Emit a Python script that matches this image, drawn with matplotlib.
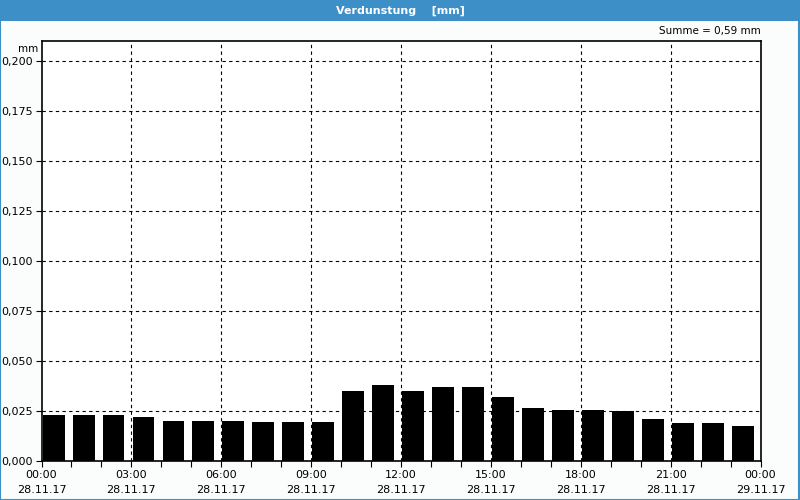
import matplotlib
matplotlib.use("Agg")
import matplotlib.pyplot as plt
from matplotlib.patches import Rectangle
from matplotlib.ticker import FixedLocator, MultipleLocator


OUTPUT_FILE = "out.png"

TITLE = "Verdunstung    [mm]"
SUM_TEXT = "Summe = 0,59 mm"
BLUE = "#3d8fc7"

# hourly evaporation values in mm (one bar per hour, 00:00 .. 23:00)
hours = list(range(24))
values = [0.023, 0.023, 0.023, 0.022, 0.020, 0.020, 0.020, 0.0195,
          0.0195, 0.0195, 0.035, 0.038, 0.035, 0.037, 0.037, 0.032,
          0.0265, 0.0255, 0.0255, 0.025, 0.0206, 0.0186, 0.0186, 0.0171]

x_tick_hours = [0, 3, 6, 9, 12, 15, 18, 21, 24]
x_tick_labels = ["00:00\n28.11.17", "03:00\n28.11.17", "06:00\n28.11.17",
                 "09:00\n28.11.17", "12:00\n28.11.17", "15:00\n28.11.17",
                 "18:00\n28.11.17", "21:00\n28.11.17", "00:00\n29.11.17"]

y_ticks = [0.0, 0.025, 0.05, 0.075, 0.1, 0.125, 0.15, 0.175, 0.2]
y_tick_labels = ["0,000", "0,025", "0,050", "0,075", "0,100",
                 "0,125", "0,150", "0,175", "0,200"]


def make_frame(fig):
    # blue title bar and thin blue border round the picture
    fig.patches.append(Rectangle((0, 0.958), 1, 0.042, transform=fig.transFigure,
                                 facecolor=BLUE, edgecolor="none", zorder=0))
    fig.patches.append(Rectangle((0.0006, 0.001), 0.9982, 0.998, transform=fig.transFigure,
                                 facecolor="none", edgecolor=BLUE, linewidth=1.5, zorder=0))
    fig.text(0.5, 0.979, TITLE, color="white", fontsize=8, fontweight="bold",
             ha="center", va="center")


def draw_bars(ax):
    ax.bar([h + 0.04 for h in hours], values, width=0.73, align="edge",
           color="black", zorder=3)


def style_axes(ax):
    ax.set_xlim(0, 24)
    ax.set_ylim(0, 0.2105)
    ax.set_axisbelow(True)

    ax.xaxis.set_major_locator(FixedLocator(x_tick_hours))
    ax.set_xticklabels(x_tick_labels)
    ax.xaxis.set_minor_locator(MultipleLocator(1))
    ax.set_yticks(y_ticks)
    ax.set_yticklabels(y_tick_labels)

    ax.tick_params(axis="both", which="major", labelsize=8, length=4, width=0.8,
                   direction="out", color="black")
    ax.tick_params(axis="x", which="minor", length=4, width=0.8, direction="out")
    ax.tick_params(axis="y", pad=2)
    ax.tick_params(axis="x", pad=3)
    for label in ax.get_xticklabels():
        label.set_linespacing(1.6)

    ax.grid(True, which="major", color="black", linestyle=(0, (3, 3)),
            linewidth=0.8)
    # the outer vertical grid lines sit on the frame, hide them
    gridlines = ax.xaxis.get_gridlines()
    gridlines[0].set_visible(False)
    gridlines[-1].set_visible(False)

    for spine in ax.spines.values():
        spine.set_linewidth(1.2)
        spine.set_zorder(5)

    ax.text(-0.004, 0.2085, "mm", transform=ax.get_yaxis_transform(),
            ha="right", va="top", fontsize=7.5)
    ax.text(1.0, 1.01, SUM_TEXT, transform=ax.transAxes,
            ha="right", va="bottom", fontsize=7.5)


def main():
    fig = plt.figure(figsize=(8, 5), dpi=100, facecolor="#fbfdfd")
    ax = fig.add_axes([41.5 / 800, 39.5 / 500, 719 / 800, 420 / 500])
    ax.set_facecolor("white")

    make_frame(fig)
    draw_bars(ax)
    style_axes(ax)

    fig.savefig(OUTPUT_FILE, dpi=100, facecolor=fig.get_facecolor())
    plt.close(fig)


if __name__ == "__main__":
    main()
